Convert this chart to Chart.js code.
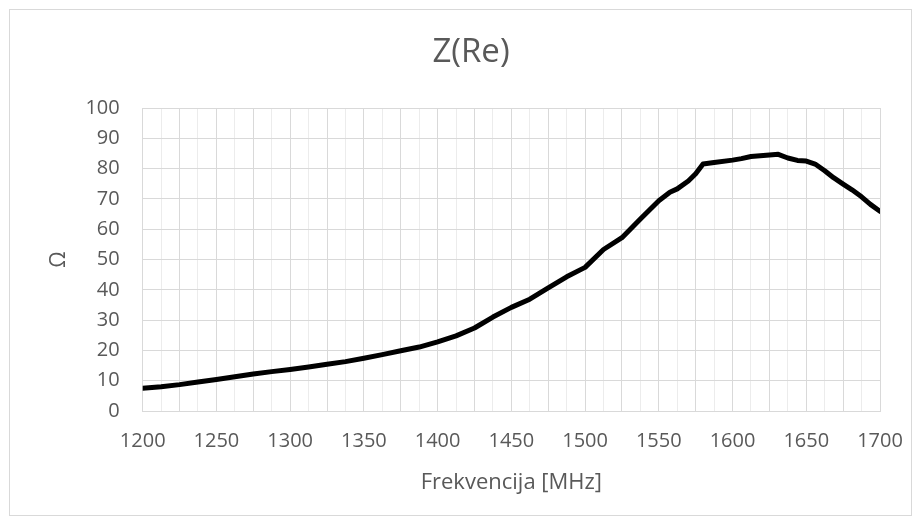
<!DOCTYPE html>
<html>
<head>
<meta charset="utf-8">
<script src="https://cdn.jsdelivr.net/npm/chart.js@4/dist/chart.umd.min.js"></script>
<style>
  html, body { margin: 0; padding: 0; background: #fff; }
  #wrap { width: 922px; height: 525px; }
</style>
</head>
<body>
<div id="wrap"><canvas id="chart_zre" width="922" height="525"></canvas></div>
<script>
// frequency points (MHz)
const freqs = [1200, 1212.5, 1225, 1237.5, 1250, 1262.5, 1275, 1287.5, 1300, 1312.5,
               1325, 1337.5, 1350, 1362.5, 1375, 1387.5, 1400, 1412.5, 1425, 1437.5,
               1450, 1462.5, 1475, 1487.5, 1500, 1512.5, 1525, 1537.5, 1550, 1557.5,
               1562.5, 1570, 1575, 1580, 1587.5, 1600, 1606, 1612.5, 1625, 1631,
               1637.5, 1644, 1650, 1656, 1662.5, 1668.5, 1675, 1681, 1687.5, 1693.5, 1700]
// Z real part (ohm)
const zre = [7.5, 8.0, 8.7, 9.6, 10.4, 11.3, 12.2, 13.0, 13.7, 14.5,
             15.4, 16.3, 17.4, 18.6, 19.9, 21.1, 22.8, 24.8, 27.4, 31.0,
             34.2, 36.9, 40.6, 44.3, 47.4, 53.3, 57.2, 63.4, 69.4, 72.2,
             73.3, 75.9, 78.3, 81.5, 82.0, 82.8, 83.3, 84.0, 84.5, 84.7,
             83.5, 82.7, 82.5, 81.5, 79.3, 77.0, 74.9, 73.0, 70.7, 68.2, 65.9]
const xLabels = [1200, 1250, 1300, 1350, 1400, 1450, 1500, 1550, 1600, 1650, 1700]
const yTicks = [0, 10, 20, 30, 40, 50, 60, 70, 80, 90, 100]

const textColor = '#595959'
const fontFamily = "'Open Sans', 'DejaVu Sans', sans-serif"

// light frame around the whole chart, like the spreadsheet chart box
const framePlugin = {
    id: 'frame',
    afterLayout(chart) {
        // title is centred on the chart box, not on the canvas minus right padding
        if (chart.titleBlock) {
            chart.titleBlock.left = 62
        }
    },
    beforeDraw(chart) {
        const ctx = chart.ctx
        ctx.save()
        ctx.fillStyle = '#ffffff'
        ctx.fillRect(0, 0, chart.width, chart.height)
        ctx.strokeStyle = '#d9d9d9'
        ctx.lineWidth = 1
        ctx.strokeRect(9.5, 9.5, 902, 506)
        ctx.restore()
    }
}

let points = []
for (let i = 0; i < freqs.length; i++) {
    points.push({x: freqs[i], y: zre[i]})
}

const config = {
    type: 'line',
    data: {
        datasets: [{
            label: 'Z(Re)',
            data: points,
            borderColor: '#000000',
            borderWidth: 5,
            borderJoinStyle: 'round',
            borderCapStyle: 'round',
            pointRadius: 0,
            tension: 0,
            fill: false
        }]
    },
    options: {
        responsive: false,
        animation: false,
        layout: { padding: { left: 0, right: 42, top: 0, bottom: 0 } },
        plugins: {
            legend: { display: false },
            tooltip: { enabled: false },
            title: {
                display: true,
                text: 'Z(Re)',
                color: textColor,
                font: { family: fontFamily, size: 33, weight: 'normal' },
                padding: { top: 33, bottom: 35.4 }
            }
        },
        scales: {
            x: {
                type: 'linear',
                min: 1200,
                max: 1700,
                afterFit(scale) { scale.height = 114 },
                ticks: {
                    stepSize: 12.5,
                    autoSkip: false,
                    maxRotation: 0,
                    minRotation: 0,
                    padding: 18,
                    color: textColor,
                    font: { family: fontFamily, size: 20 },
                    callback: v => xLabels.includes(v) ? String(v) : ''
                },
                grid: {
                    drawTicks: false,
                    lineWidth: 1,
                    color: c => (c.tick && c.tick.value % 25 === 0) ? '#d9d9d9' : '#ececec'
                },
                border: { color: '#d9d9d9' },
                title: {
                    display: true,
                    text: 'Frekvencija [MHz]',
                    color: textColor,
                    font: { family: fontFamily, size: 22 },
                    padding: { top: 0, bottom: 29 }
                }
            },
            y: {
                min: 0,
                max: 100,
                afterFit(scale) { scale.width = 142.7 },
                afterBuildTicks(scale) { scale.ticks = yTicks.map(v => ({value: v})) },
                ticks: {
                    padding: 23,
                    color: textColor,
                    font: { family: fontFamily, size: 20 }
                },
                grid: { drawTicks: false, color: '#d9d9d9', lineWidth: 1 },
                border: { display: false },
                title: {
                    display: true,
                    text: 'Ω',
                    color: textColor,
                    font: { family: fontFamily, size: 21 },
                    padding: { top: 46, bottom: 46 }
                }
            }
        }
    },
    plugins: [framePlugin]
}

let chart1 = new Chart(document.getElementById('chart_zre'), config)
</script>
</body>
</html>
